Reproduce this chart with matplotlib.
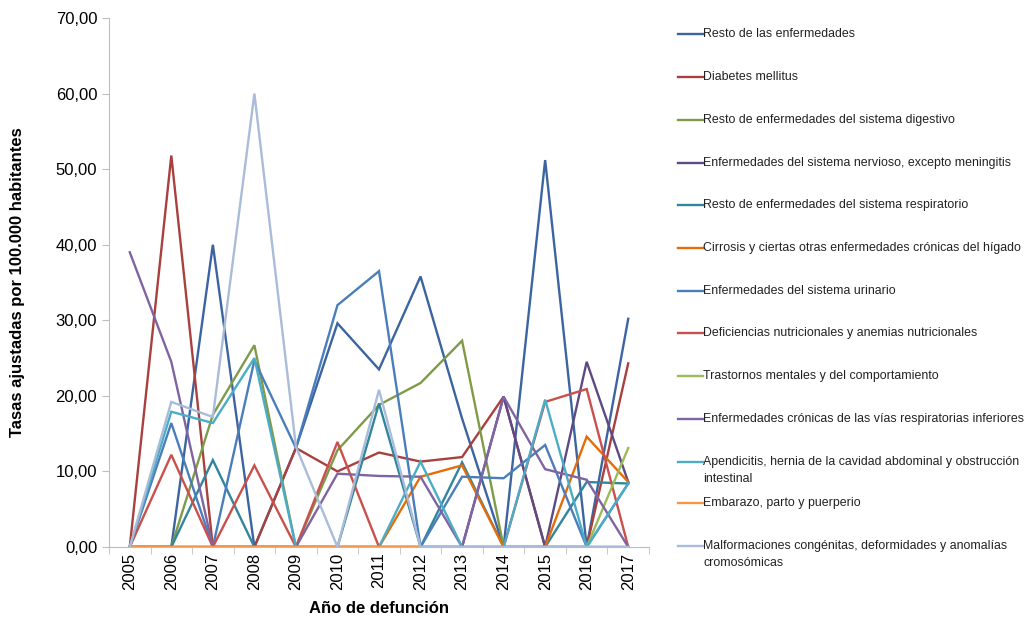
import numpy as np
import matplotlib
matplotlib.use("Agg")
import matplotlib.pyplot as plt
from matplotlib.lines import Line2D

plt.rcParams['font.family'] = ['Liberation Sans', 'DejaVu Sans']

# Datos: tasas ajustadas por 100.000 habitantes
years = ['2005', '2006', '2007', '2008', '2009', '2010', '2011',
         '2012', '2013', '2014', '2015', '2016', '2017']

resto = [0, 0, 40.0, 0, 13.1, 29.6, 23.5, 35.8, 17.0, 0, 51.2, 0, 30.2]
diabetes = [0, 51.8, 0, 0, 13.1, 10.0, 12.5, 11.3, 11.9, 19.9, 0, 0, 24.3]
digestivo = [0, 0, 17.5, 26.7, 0, 12.8, 18.8, 21.7, 27.3, 0, 0, 0, 0]
nervioso = [0, 0, 0, 0, 0, 0, 0, 0, 0, 19.9, 0, 24.5, 8.6]
respiratorio = [0, 0, 11.5, 0, 0, 0, 19.0, 0, 11.2, 0, 0, 8.6, 8.4]
cirrosis = [0, 0, 0, 0, 0, 0, 0, 9.3, 10.8, 0, 0, 14.6, 8.6]
urinario = [0, 16.4, 0, 24.7, 13.1, 32.0, 36.5, 0, 9.3, 9.1, 13.5, 0, 8.4]
deficiencias = [0, 12.2, 0, 10.8, 0, 13.9, 0, 0, 0, 0, 19.2, 20.9, 0]
trastornos = [0, 0, 0, 0, 0, 0, 0, 0, 0, 0, 0, 0, 13.1]
cronicas = [39.0, 24.5, 0, 0, 0, 9.7, 9.4, 9.3, 0, 19.9, 10.3, 8.9, 0]
apendicitis = [0, 17.9, 16.4, 25.0, 0, 0, 0, 11.3, 0, 0, 19.5, 0, 8.4]
embarazo = [0, 0, 0, 0, 0, 0, 0, 0, 0, 0, 0, 0, 0]
malformaciones = [0, 19.2, 17.2, 60.0, 13.3, 0, 20.8, 0, 0, 0, 0, 0, 0]

series = [
    ("Resto de las enfermedades", resto, "#3B64A0"),
    ("Diabetes mellitus", diabetes, "#A8403D"),
    ("Resto de enfermedades del sistema digestivo", digestivo, "#7F9A48"),
    ("Enfermedades del sistema nervioso, excepto meningitis", nervioso, "#5E4A82"),
    ("Resto de enfermedades del sistema respiratorio", respiratorio, "#31859C"),
    ("Cirrosis y ciertas otras enfermedades crónicas del hígado", cirrosis, "#E46C0A"),
    ("Enfermedades del sistema urinario", urinario, "#4A7EBB"),
    ("Deficiencias nutricionales y anemias nutricionales", deficiencias, "#C9504D"),
    ("Trastornos mentales y del comportamiento", trastornos, "#9BBB59"),
    ("Enfermedades crónicas de las vías respiratorias inferiores", cronicas, "#8064A2"),
    ("Apendicitis, hernia de la cavidad abdominal y obstrucción\nintestinal", apendicitis, "#4BACC6"),
    ("Embarazo, parto y puerperio", embarazo, "#F79646"),
    ("Malformaciones congénitas, deformidades y anomalías\ncromosómicas", malformaciones, "#A9BCD9"),
]

fig = plt.figure(figsize=(10.24, 6.21), dpi=100)
ax = fig.add_axes([109 / 1024, 1 - 547 / 621, 540 / 1024, 529 / 621])

x = np.arange(len(years))
for name, vals, col in series:
    ax.plot(x, vals, color=col, lw=1.7, solid_joinstyle='miter')

ax.set_xlim(-0.5, len(years) - 0.5)
ax.set_ylim(0, 70)
ax.set_yticks(np.arange(0, 71, 10))
ax.set_yticklabels([f"{v:.2f}".replace('.', ',') for v in np.arange(0, 71, 10)], fontsize=12)
ax.set_xticks(x)
ax.set_xticklabels(years, rotation=90, fontsize=12)
ax.set_xticks(np.arange(-0.5, len(years)), minor=True)
ax.tick_params(axis='x', which='major', length=0, pad=4)
ax.tick_params(axis='x', which='minor', length=5, color='#BFBFBF')
ax.tick_params(axis='y', length=5, color='#BFBFBF')

for s in ['top', 'right']:
    ax.spines[s].set_visible(False)
ax.spines['left'].set_color('#BFBFBF')
ax.spines['bottom'].set_color('#B4B9D6')

ax.set_ylabel("Tasas ajustadas por 100.000 habitantes", fontsize=12, fontweight='bold', labelpad=22)
ax.set_xlabel("Año de defunción", fontsize=12, fontweight='bold', labelpad=8)

# leyenda a la derecha
leg_y = [34, 77, 120, 163, 205, 248, 291, 333, 376, 419, 462, 503, 546]
for (name, vals, col), py in zip(series, leg_y):
    fy = 1 - py / 621
    fig.add_artist(Line2D([678 / 1024, 703 / 1024], [fy, fy], color=col, lw=1.7))
    for i, line in enumerate(name.split('\n')):
        fig.text(703 / 1024, 1 - (py + 17 * i) / 621, line, fontsize=8.9,
                 va='center', ha='left', color='#222222')

fig.savefig("out.png", dpi=100)
